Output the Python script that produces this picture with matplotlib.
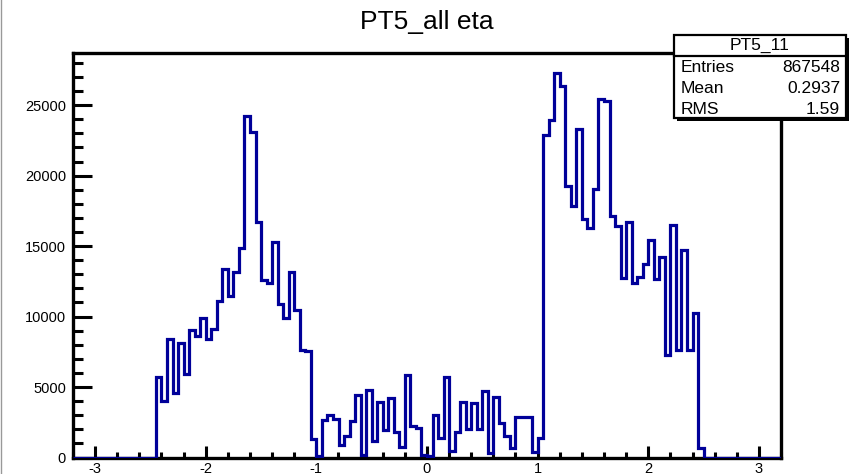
import numpy as np
import matplotlib
matplotlib.use("Agg")
import matplotlib.pyplot as plt
from matplotlib.patches import Rectangle
from matplotlib.ticker import MultipleLocator

plt.rcParams['font.family'] = ['Liberation Sans', 'DejaVu Sans']
plt.rcParams['axes.unicode_minus'] = False

# histogram definition and contents
title = "PT5_all eta"
eta_min, eta_max, n_bins = -3.2, 3.2, 128
first_bin = 15  # first filled bin starts at eta = -2.45
counts = [5700, 4000, 8400, 4600, 8100, 5900, 9050, 8600, 9880, 8400,
          9100, 11100, 13360, 11470, 13150, 14850, 24200, 23070, 16740, 12600,
          12410, 15320, 10870, 9880, 13190, 10500, 7600, 7560, 1300, 100,
          2660, 2980, 2710, 900, 1500, 2580, 4440, 150, 4790, 1200,
          3930, 1950, 4200, 1780, 750, 5840, 2250, 2100, 150, 100,
          2980, 1350, 5720, 450, 1830, 3940, 2050, 3850, 2000, 4740,
          300, 4320, 2450, 1550, 650, 2870, 2860, 2860, 410, 1400,
          22900, 23950, 27250, 26330, 19250, 17870, 23310, 16950, 16270, 19050,
          25430, 25270, 17120, 16390, 12720, 16700, 12370, 12800, 13700, 15400,
          12650, 14260, 7240, 16510, 7600, 14730, 7600, 10240, 650]

# stats box
stat_name = "PT5_11"
stat_labels = ["Entries", "Mean", "RMS"]
stat_values = ["867548", "0.2937", "1.59"]

W, H = 850, 474
content = np.zeros(n_bins)
content[first_bin:first_bin + len(counts)] = counts
edges = np.linspace(eta_min, eta_max, n_bins + 1)

fig = plt.figure(figsize=(W / 100, H / 100), dpi=100)
ax = fig.add_axes([73 / W, 1 - 457.5 / H, (781 - 73) / W, (457.5 - 53) / H])

ax.stairs(content, edges, color="#000099", lw=2.3, zorder=3)

ax.set_xlim(eta_min, eta_max)
ax.set_ylim(0, 28700)
ax.xaxis.set_major_locator(MultipleLocator(1))
ax.xaxis.set_minor_locator(MultipleLocator(0.2))
ax.yaxis.set_major_locator(MultipleLocator(5000))
ax.yaxis.set_minor_locator(MultipleLocator(1000))
ax.tick_params(axis="both", which="both", direction="in", top=False, right=False,
               width=2.2, labelsize=10.5)
ax.tick_params(axis="x", which="major", length=9, pad=3)
ax.tick_params(axis="x", which="minor", length=4.5)
ax.tick_params(axis="y", which="major", length=14, pad=5)
ax.tick_params(axis="y", which="minor", length=7)
for s in ax.spines.values():
    s.set_linewidth(2.4)

fig.text(427 / W, 1 - 22 / H, title, ha="center", va="center", fontsize=19)

# canvas border on the left
fig.add_artist(plt.Line2D([0.5 / W, 0.5 / W], [0, 1], color="#999999", lw=1,
                          transform=fig.transFigure))


def fx(px):
    return px / W


def fy(py):
    return 1 - py / H


# stats box (with small shadow on right/bottom)
bx0, bx1, by0, by1 = 674, 846, 35, 118
fig.add_artist(Rectangle((fx(bx0 + 3), fy(by1 + 3)), fx(bx1 - bx0), (by1 - by0) / H,
                         transform=fig.transFigure, facecolor="black",
                         edgecolor="none", zorder=10))
fig.add_artist(Rectangle((fx(bx0), fy(by1)), fx(bx1 - bx0), (by1 - by0) / H,
                         transform=fig.transFigure, facecolor="white",
                         edgecolor="black", lw=1.6, zorder=11))
fig.add_artist(plt.Line2D([fx(bx0), fx(bx1)], [fy(56), fy(56)], color="black",
                          lw=1.6, transform=fig.transFigure, zorder=12))
fig.text(fx((bx0 + bx1) / 2), fy(45.5), stat_name, ha="center", va="center",
         fontsize=12.5, zorder=13)
for i, (lab, val) in enumerate(zip(stat_labels, stat_values)):
    y = fy(67.5 + 21 * i)
    fig.text(fx(681), y, lab, ha="left", va="center", fontsize=12.5, zorder=13)
    fig.text(fx(840), y, val, ha="right", va="center", fontsize=12.5, zorder=13)

fig.savefig("out.png", dpi=100)
